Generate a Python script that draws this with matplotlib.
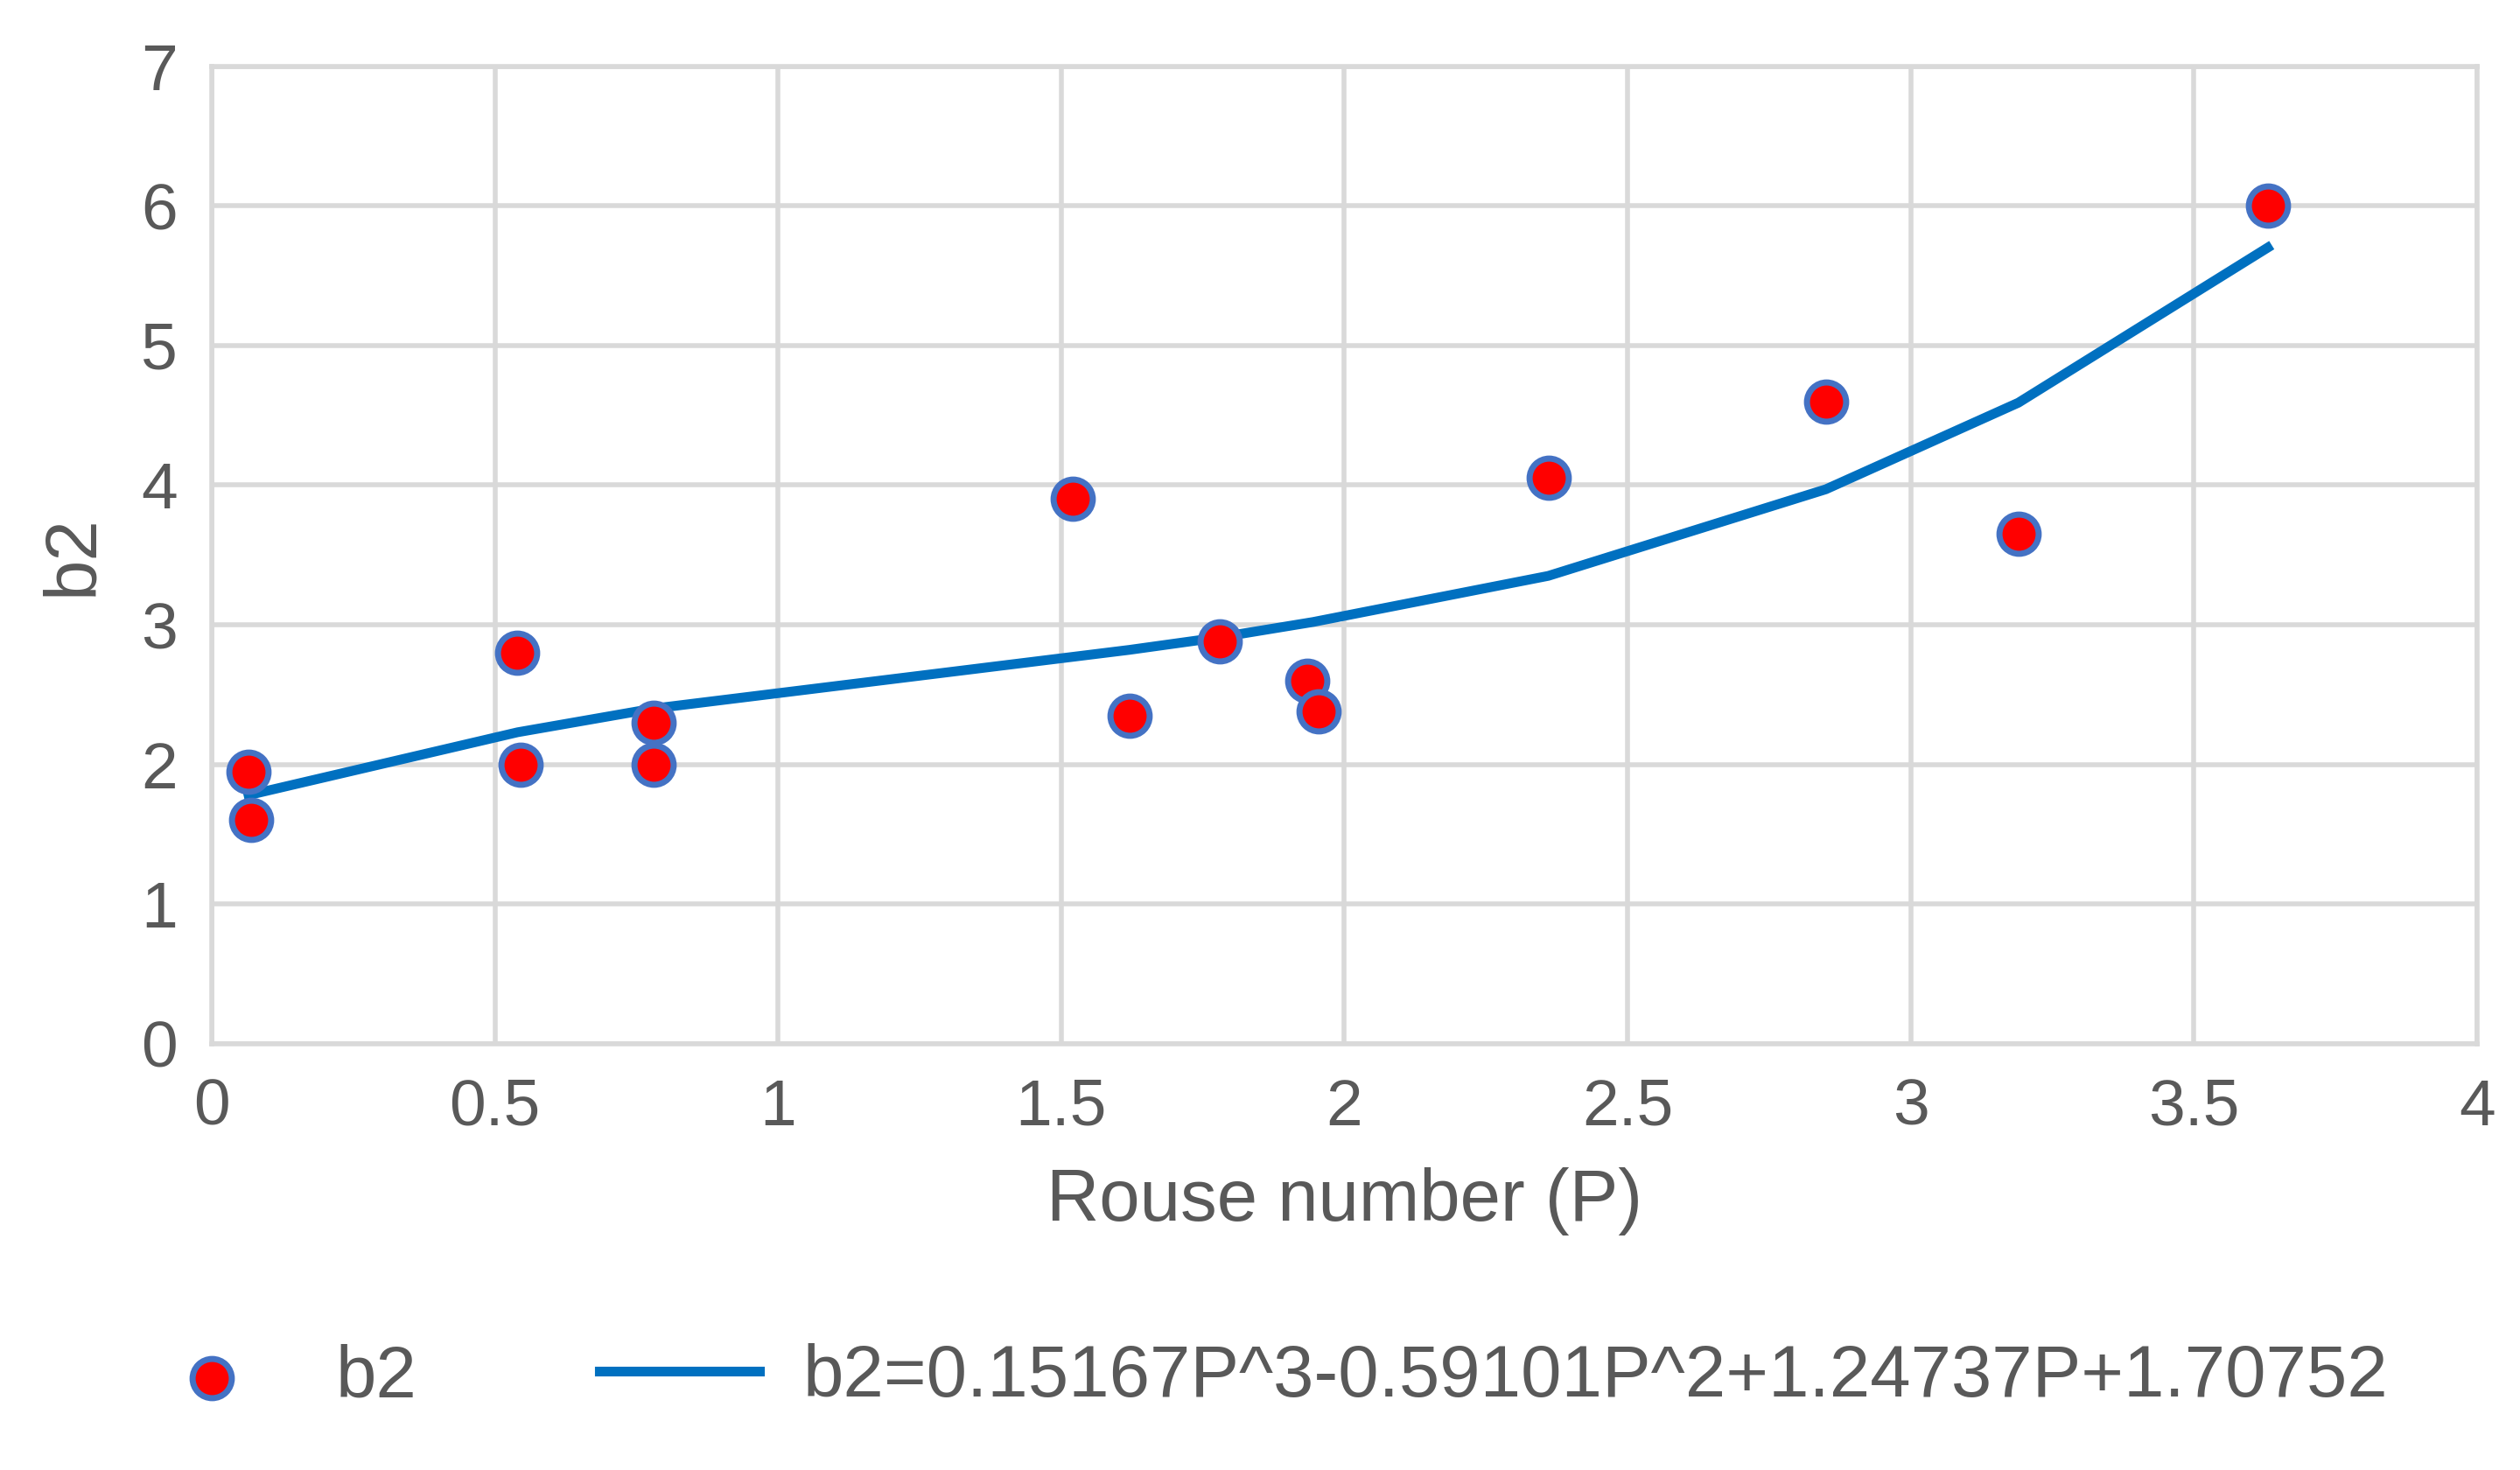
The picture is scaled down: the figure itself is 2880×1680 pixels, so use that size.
import matplotlib.pyplot as plt

# measured points
px = [0.065, 0.07, 0.54, 0.545, 0.78, 0.78, 1.52, 1.62, 1.78, 1.935, 1.955, 2.36, 2.85, 3.19, 3.63]
py = [1.95, 1.6, 2.8, 2.0, 2.3, 2.0, 3.9, 2.35, 2.88, 2.6, 2.38, 4.05, 4.6, 3.65, 6.0]

# fitted curve, read at the data x positions
fx = [0.065, 0.54, 0.78, 1.52, 1.62, 1.78, 1.945, 2.36, 2.85, 3.19, 3.63]
fy = [1.78, 2.23, 2.40, 2.77, 2.82, 2.91, 3.02, 3.35, 3.97, 4.59, 5.70]

plt.rcParams['font.family'] = ['Liberation Sans', 'DejaVu Sans']
fig = plt.figure(figsize=(14.4, 8.4), dpi=200)
ax = fig.add_axes([0.084, 0.29, 0.899, 0.665])

ax.plot(fx, fy, color='#0070c0', lw=4, label='b2=0.15167P^3-0.59101P^2+1.24737P+1.70752', zorder=3)
ax.scatter(px, py, s=260, color='red', edgecolors='#4472c4', linewidths=2.5, label='b2', zorder=4)

ax.set_xlim(0, 4)
ax.set_ylim(0, 7)
ax.set_xticks([0, 0.5, 1, 1.5, 2, 2.5, 3, 3.5, 4])
ax.set_xticklabels(['0', '0.5', '1', '1.5', '2', '2.5', '3', '3.5', '4'])
ax.grid(True, color='#d9d9d9', lw=2)
ax.set_axisbelow(True)
for s in ax.spines.values():
    s.set_color('#d9d9d9')
    s.set_linewidth(2)
ax.tick_params(length=0, labelsize=27, colors='#595959', pad=14)
ax.set_xlabel('Rouse number (P)', fontsize=30, color='#595959', labelpad=12)
ax.set_ylabel('b2', fontsize=30, color='#595959', labelpad=14)

h, l = ax.get_legend_handles_labels()
fig.legend(h[::-1], l[::-1], loc='lower center', bbox_to_anchor=(0.5, -0.005), ncol=2,
           frameon=False, fontsize=30, labelcolor='#595959', handlelength=2.2,
           handletextpad=0.6, columnspacing=2.5)

fig.savefig('out.png')
